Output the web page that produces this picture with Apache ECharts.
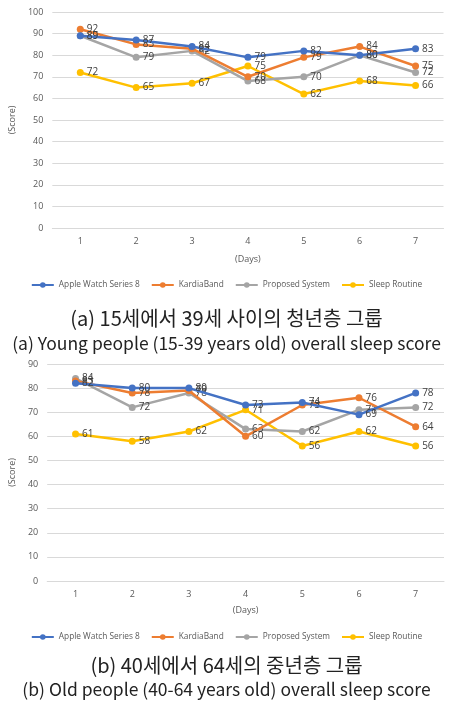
<!DOCTYPE html>
<html><head><meta charset="utf-8">
<script src="https://cdn.jsdelivr.net/npm/echarts@6/dist/echarts.min.js"></script>
<style>html,body{margin:0;padding:0;background:#fff}#c{width:453px;height:709px}</style>
</head><body><div id="c"></div>
<script>
var days = ['1','2','3','4','5','6','7'];
var seriesNames = ['Apple Watch Series 8','KardiaBand','Proposed System','Sleep Routine'];
var colors = ['#4472C4','#ED7D31','#A5A5A5','#FFC000'];
// (a) young people
var youngApple = [89,87,84,79,82,80,83];
var youngKardia = [92,85,83,70,79,84,75];
var youngProposed = [89,79,82,68,70,80,72];
var youngSleep = [72,65,67,75,62,68,66];
// (b) old people
var oldApple = [82,80,80,73,74,69,78];
var oldKardia = [83,78,79,60,73,76,64];
var oldProposed = [84,72,78,63,62,71,72];
var oldSleep = [61,58,62,71,56,62,56];
var captionA1 = '(a) 15세에서 39세 사이의 청년층 그룹';
var captionA2 = '(a) Young people (15-39 years old) overall sleep score';
var captionB1 = '(b) 40세에서 64세의 중년층 그룹';
var captionB2 = '(b) Old people (40-64 years old) overall sleep score';

var chart = echarts.init(document.getElementById('c'));
var labelFont = 'Open Sans, Noto Sans, sans-serif';
function mk(name, data, idx, gi){
  return {name:name,type:'line',xAxisIndex:gi,yAxisIndex:gi,data:data,
    symbol:'circle',symbolSize:7,lineStyle:{width:2.5,color:colors[idx]},
    itemStyle:{color:colors[idx]},
    label:{show:true,position:'right',distance:3,fontSize:10,color:'#404040',fontFamily:labelFont},
    z:10-idx, animation:false};
}
var young=[youngApple,youngKardia,youngProposed,youngSleep];
var old=[oldApple,oldKardia,oldProposed,oldSleep];
var series=[];
young.forEach(function(d,i){series.push(mk(seriesNames[i],d,i,0));});
old.forEach(function(d,i){series.push(mk(seriesNames[i],d,i,1));});
function xa(gi){return {type:'category',gridIndex:gi,data:days,boundaryGap:true,
  axisLine:{show:true,lineStyle:{color:'#d9d9d9'}},axisTick:{show:false},
  axisLabel:{fontSize:9,color:'#595959',margin:9,fontFamily:labelFont},
  name:'(Days)',nameLocation:'middle',nameGap:gi?25:27,nameTextStyle:{fontSize:9,color:'#595959',fontFamily:labelFont}};}
function ya(gi,max){return {type:'value',gridIndex:gi,min:0,max:max,interval:10,
  axisLine:{show:false},axisTick:{show:false},
  splitLine:{lineStyle:{color:'#d9d9d9',width:1}},
  axisLabel:{fontSize:9,color:'#595959',margin:9,fontFamily:labelFont},
  name:'(Score)',nameLocation:'middle',nameGap:gi?25:22,nameTextStyle:{fontSize:9,color:'#595959',fontFamily:labelFont}};}
var legItem={fontSize:8.3,color:'#595959',fontFamily:labelFont};
var leg={left:'center',itemWidth:22,itemHeight:7,itemGap:11,data:seriesNames,textStyle:legItem};
chart.setOption({
  animation:false,
  grid:[{left:44.5,top:12,width:399,height:216},{left:41.5,top:364,width:402.5,height:217}],
  xAxis:[xa(0),xa(1)],
  yAxis:[ya(0,100),ya(1,90)],
  legend:[Object.assign({top:276},leg),Object.assign({top:628},leg)],
  title:[
    {text:captionA1,left:'center',top:303,textStyle:{fontSize:20,fontWeight:'normal',color:'#222',fontFamily:'Noto Sans CJK KR'}},
    {text:captionA2,left:'center',top:330,textStyle:{fontSize:17.5,fontWeight:'normal',color:'#222',fontFamily:'Noto Sans CJK KR'}},
    {text:captionB1,left:'center',top:650,textStyle:{fontSize:20,fontWeight:'normal',color:'#222',fontFamily:'Noto Sans CJK KR'}},
    {text:captionB2,left:'center',top:676,textStyle:{fontSize:17.5,fontWeight:'normal',color:'#222',fontFamily:'Noto Sans CJK KR'}}
  ],
  series:series
});
</script></body></html>
